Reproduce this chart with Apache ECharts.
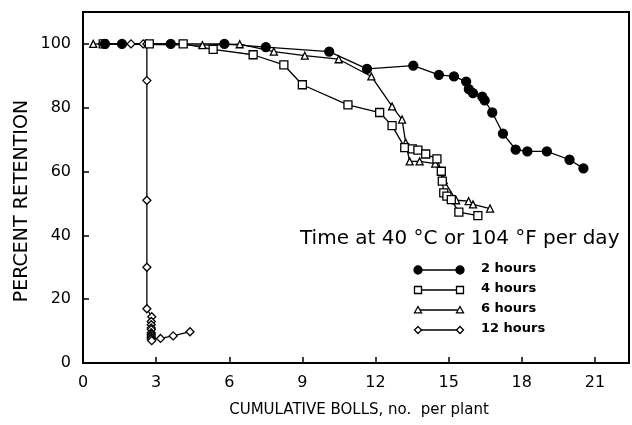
<!DOCTYPE html>
<html>
<head>
<meta charset="utf-8">
<script src="https://cdn.jsdelivr.net/npm/echarts/dist/echarts.min.js"></script>
<style>
  html, body { margin: 0; padding: 0; background: #fff; }
  #chart { width: 632px; height: 425px; }
</style>
</head>
<body>
<div id="chart"></div>
<script>
// Boll retention vs cumulative bolls for daily exposure time at 40 °C
const xTicks = [0, 3, 6, 9, 12, 15, 18, 21];
const yTicks = [0, 20, 40, 60, 80, 100];

const hours2 = [
  [0.9, 100], [1.6, 100], [3.6, 100], [5.8, 100], [7.5, 99], [10.1, 97.6],
  [11.65, 92.2], [13.55, 93.2], [14.6, 90.3], [15.22, 89.8], [15.72, 88.2],
  [15.83, 85.8], [16.0, 84.6], [16.38, 83.5], [16.48, 82.3], [16.79, 78.5],
  [17.23, 71.9], [17.75, 66.9], [18.23, 66.3], [19.03, 66.3], [19.96, 63.7],
  [20.53, 61.0]
];
const hours4 = [
  [0.83, 100], [2.72, 100], [4.11, 100], [5.34, 98.3], [6.98, 96.6],
  [8.24, 93.4], [9.0, 87.2], [10.87, 80.9], [12.17, 78.5], [12.68, 74.4],
  [13.2, 67.5], [13.51, 67.1], [13.74, 66.7], [14.06, 65.5], [14.52, 64.0],
  [14.7, 60.1], [14.74, 57.0], [14.8, 53.3], [14.93, 52.3], [15.11, 51.2],
  [15.42, 47.3], [16.2, 46.2]
];
const hours6 = [
  [0.42, 100], [4.9, 99.6], [6.43, 99.9], [7.83, 97.6], [9.1, 96.3],
  [10.49, 95.2], [11.83, 89.8], [12.68, 80.4], [13.09, 76.3], [13.24, 69.0],
  [13.4, 63.2], [13.81, 63.2], [14.45, 62.5], [14.8, 57.3], [15.31, 51.0],
  [15.82, 50.7], [16.0, 49.7], [16.7, 48.4]
];
const hours12 = [
  [0.8, 100], [1.97, 100], [2.47, 100], [2.62, 100], [2.62, 88.5],
  [2.62, 51.0], [2.62, 30.0], [2.62, 17.0], [2.82, 14.5], [2.8, 13.0],
  [2.8, 12.0], [2.8, 11.0], [2.8, 10.5], [2.8, 9.5], [2.8, 9.0], [2.8, 8.5],
  [2.8, 8.0], [2.8, 7.5], [2.82, 7.0], [3.18, 7.7], [3.7, 8.5], [4.39, 9.8]
];

const legendTitle = 'Time at 40 \u00B0C or 104 \u00B0F per day';
const legendNames = ['2 hours', '4 hours', '6 hours', '12 hours'];
const xName = 'CUMULATIVE BOLLS, no.  per plant';
const yName = 'PERCENT RETENTION';

const FONT = 'DejaVu Sans';
const INK = '#000';

function lineSeries(name, data, symbol, size, filled) {
  return {
    name: name,
    type: 'line',
    data: data,
    symbol: symbol,
    symbolSize: size,
    showAllSymbol: true,
    animation: false,
    lineStyle: { color: INK, width: 1.3 },
    itemStyle: { color: filled ? INK : '#fff', borderColor: INK, borderWidth: 1.3 },
    emphasis: { disabled: true }
  };
}

const symbols = [
  { sym: 'circle', size: 8 },
  { sym: 'rect', size: 7 },
  { sym: 'triangle', size: 7 },
  { sym: 'diamond', size: 7 }
];

// Legend block and axis titles drawn as graphic elements
const graphics = [];
graphics.push({
  type: 'text', left: 300, top: 229,
  style: { text: legendTitle, font: '20px "' + FONT + '"', fill: INK }
});
graphics.push({
  type: 'text', x: 22, y: 201, rotation: Math.PI / 2,
  style: { text: yName, font: '19px "' + FONT + '"', fill: INK, align: 'center', verticalAlign: 'middle' }
});
const rowY = [270, 290, 310, 330];
symbols.forEach(function (s, i) {
  const y = rowY[i];
  graphics.push({
    type: 'line', shape: { x1: 418, y1: y, x2: 460, y2: y },
    style: { stroke: INK, lineWidth: 1.3 }
  });
  [418, 460].forEach(function (x) {
    let shape, type;
    const r = s.size / 2;
    if (s.sym === 'circle') { type = 'circle'; shape = { cx: x, cy: y, r: r }; }
    else if (s.sym === 'rect') { type = 'rect'; shape = { x: x - r, y: y - r, width: 2 * r, height: 2 * r }; }
    else if (s.sym === 'triangle') { type = 'polygon'; shape = { points: [[x, y - r], [x + r, y + r * 0.8], [x - r, y + r * 0.8]] }; }
    else { type = 'polygon'; shape = { points: [[x, y - r], [x + r, y], [x, y + r], [x - r, y]] }; }
    graphics.push({
      type: type, shape: shape, z: 10,
      style: { fill: s.sym === 'circle' ? INK : '#fff', stroke: INK, lineWidth: 1.3 }
    });
  });
  graphics.push({
    type: 'text', left: 481, top: y - 8,
    style: { text: legendNames[i], font: 'bold 13px "' + FONT + '"', fill: INK }
  });
});

const chart = echarts.init(document.getElementById('chart'), null, { renderer: 'canvas' });
chart.setOption({
  backgroundColor: '#fff',
  animation: false,
  grid: { left: 83, right: 3, top: 12, bottom: 62, show: true, borderColor: INK, borderWidth: 2, backgroundColor: 'transparent' },
  xAxis: {
    type: 'value', min: 0, max: 22.4, interval: 3,
    name: xName, nameLocation: 'middle', nameGap: 40,
    nameTextStyle: { fontFamily: FONT, fontSize: 15, color: INK, padding: [0, 0, 0, 6] },
    axisLine: { show: true, onZero: false, lineStyle: { color: INK, width: 2 } },
    axisTick: { show: true, inside: true, length: 6, lineStyle: { color: INK, width: 1.5 } },
    axisLabel: {
      fontFamily: FONT, fontSize: 16, color: INK, margin: 12, showMaxLabel: false,
      formatter: function (v) { return xTicks.indexOf(v) >= 0 ? String(v) : ''; }
    },
    splitLine: { show: false }
  },
  yAxis: {
    type: 'value', min: 0, max: 110, interval: 20,
    axisLine: { show: true, lineStyle: { color: INK, width: 2 } },
    axisTick: { show: true, inside: true, length: 6, lineStyle: { color: INK, width: 1.5 } },
    axisLabel: {
      fontFamily: FONT, fontSize: 16, color: INK, margin: 12, showMaxLabel: false,
      formatter: function (v) { return yTicks.indexOf(v) >= 0 ? String(v) : ''; }
    },
    splitLine: { show: false }
  },
  series: [
    lineSeries(legendNames[3], hours12, 'diamond', 8, false),
    lineSeries(legendNames[2], hours6, 'triangle', 7, false),
    lineSeries(legendNames[1], hours4, 'rect', 8, false),
    lineSeries(legendNames[0], hours2, 'circle', 9, true)
  ],
  graphic: graphics
});
</script>
</body>
</html>
